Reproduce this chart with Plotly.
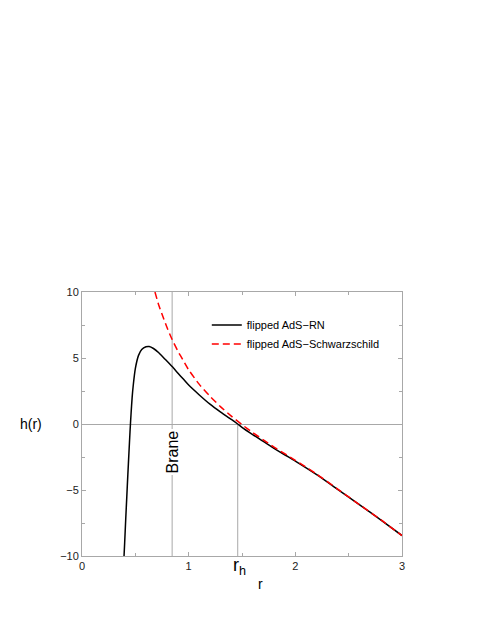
#==============================
#   h(r) per AdS-RN "flipped"
#==============================
import plotly.graph_objects as go

#------------------------------
# 1: Dati
#------------------------------

# flipped AdS-RN (curva nera)
r_rn = [0.394, 0.40, 0.41, 0.42, 0.43, 0.44, 0.45, 0.46, 0.47, 0.48, 0.50,
        0.53, 0.56, 0.60, 0.63, 0.67, 0.72, 0.78, 0.845, 0.90, 0.95, 1.00,
        1.10, 1.20, 1.30, 1.40, 1.46, 1.50, 1.60, 1.70, 1.80, 1.90, 2.00,
        2.20, 2.40, 2.60, 2.80, 3.00]
h_rn = [-10.0, -9.0, -7.2, -5.5, -3.8, -2.2, -0.6, 0.8, 2.0, 2.9, 4.2,
        5.2, 5.65, 5.85, 5.87, 5.72, 5.4, 4.9, 4.35, 3.85, 3.4, 2.95,
        2.2, 1.5, 0.9, 0.35, 0.0, -0.25, -0.8, -1.32, -1.84, -2.33, -2.81,
        -3.84, -4.97, -6.11, -7.26, -8.45]

# flipped AdS-Schwarzschild (curva rossa tratteggiata)
r_s = [0.684, 0.72, 0.76, 0.80, 0.845, 0.90, 0.95, 1.00, 1.10, 1.20, 1.30,
       1.40, 1.50, 1.60, 1.70, 1.80, 1.90, 2.00, 2.20, 2.40, 2.60, 2.80, 3.00]
h_s = [10.0, 9.0, 8.1, 7.25, 6.4, 5.5, 4.8, 4.1, 3.0, 2.1, 1.3,
       0.6, -0.05, -0.65, -1.2, -1.75, -2.25, -2.75, -3.8, -4.95, -6.1, -7.25, -8.45]

# posizione della brana e dell'orizzonte
r_brane = 0.845
r_h = 1.46

x_ticks = [0, 1, 2, 3]
y_ticks = [-10, -5, 0, 5, 10]

FONT = "Liberation Sans, Arial, sans-serif"
FRAME = "#a8a8a8"

#------------------------------
# 2: Figura
#------------------------------
fig = go.Figure()

fig.add_trace(go.Scatter(name="flipped AdS\u2212RN", x=r_rn, y=h_rn, mode="lines",
                         line=dict(color="black", width=1.5, shape="spline", smoothing=0.6)))
fig.add_trace(go.Scatter(name="flipped AdS\u2212Schwarzschild", x=r_s, y=h_s, mode="lines",
                         line=dict(color="#ff0000", width=1.5, dash="7px,4px",
                                   shape="spline", smoothing=0.6)))

# linee verticali: brana (tutta l'altezza) e r_h (da -10 a 0)
fig.add_shape(type="line", x0=r_brane, x1=r_brane, y0=-10, y1=10,
              line=dict(color=FRAME, width=1), layer="below")
fig.add_shape(type="line", x0=r_h, x1=r_h, y0=-10, y1=0,
              line=dict(color=FRAME, width=1), layer="below")

# etichette
fig.add_annotation(x=r_brane, y=-2.15, text="Brane", textangle=-90, showarrow=False,
                   bgcolor="white", font=dict(size=16, color="black"))
fig.add_annotation(x=r_h, y=-0.04, xref="x", yref="paper", text="r<sub>h</sub>",
                   xanchor="center", yanchor="middle",
                   showarrow=False, xshift=2, font=dict(size=18, color="black"))
fig.add_annotation(x=0.559, y=-0.106, xref="paper", yref="paper", text="r",
                   xanchor="center", yanchor="middle",
                   showarrow=False, font=dict(size=14, color="black"))
fig.add_annotation(x=-0.159, y=0, xref="paper", yref="y", text="h(r)",
                   xanchor="center", yanchor="middle",
                   showarrow=False, font=dict(size=14, color="black"))

axis_style = dict(showline=True, linecolor=FRAME, linewidth=1, mirror="ticks",
                  ticks="inside", ticklen=4, tickcolor=FRAME, showgrid=False,
                  tickfont=dict(size=11, color="#222"))

fig.update_xaxes(range=[0, 3], tickvals=x_ticks, zeroline=False,
                 minor=dict(dtick=0.5, ticks="inside", ticklen=3, tickcolor=FRAME),
                 **axis_style)
fig.update_yaxes(range=[-10, 10], tickvals=y_ticks, zeroline=True,
                 zerolinecolor=FRAME, zerolinewidth=1,
                 minor=dict(dtick=2.5, ticks="inside", ticklen=3, tickcolor=FRAME),
                 **axis_style)

# la pagina html aggiunge 8px di margine: margini ridotti di conseguenza
fig.update_layout(
    width=485, height=627,
    margin=dict(l=74, r=91, t=284, b=79),
    plot_bgcolor="white", paper_bgcolor="white",
    font=dict(family=FONT, color="black"),
    showlegend=True,
    legend=dict(x=0.39, y=0.93, xanchor="left", yanchor="top",
                bgcolor="rgba(0,0,0,0)", font=dict(size=11), tracegroupgap=0),
)

fig.write_html("out.html")
